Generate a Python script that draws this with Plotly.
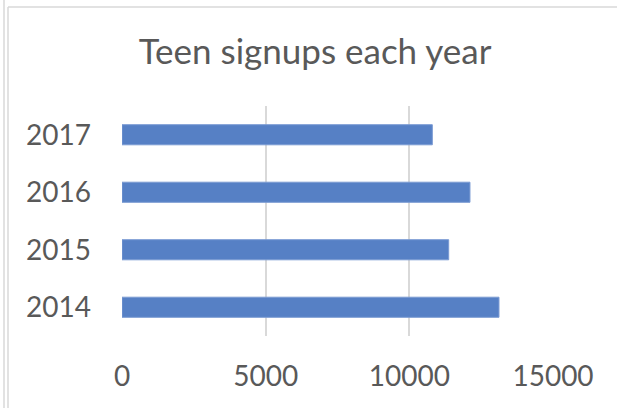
import plotly.graph_objects as go

years = ["2014", "2015", "2016", "2017"]
signups = [13120, 11370, 12110, 10800]
x_ticks = [0, 5000, 10000, 15000]

W, H = 617, 408
L, R, T, B = 122, 553, 106, 336  # plot area in pixels

def px(xp):
    return (xp - L) / (R - L)

def py(yp):
    return (B - yp) / (B - T)

fig = go.Figure(go.Bar(
    y=years, x=signups, orientation="h",
    marker=dict(color="#5680C5", line=dict(color="#7A9AD3", width=1)),
))

border = "#D9D9D9"
shapes = [
    dict(type="line", xref="paper", yref="paper", x0=px(4), x1=px(4), y0=py(0), y1=py(H),
         line=dict(color=border, width=1.5)),
    dict(type="line", xref="paper", yref="paper", x0=px(8), x1=px(8), y0=py(7), y1=py(H),
         line=dict(color=border, width=1.5)),
    dict(type="line", xref="paper", yref="paper", x0=px(8), x1=px(W), y0=py(7), y1=py(7),
         line=dict(color=border, width=1.5)),
]

fig.update_layout(
    width=W, height=H,
    margin=dict(l=L, r=W - R, t=T, b=H - B, pad=0, autoexpand=False),
    paper_bgcolor="white", plot_bgcolor="white",
    font=dict(family="Lato", color="#595959"),
    title=dict(text="Teen signups each year", x=315 / W, xanchor="center",
               y=1 - 52 / H, yanchor="middle", font=dict(size=35, color="#595959")),
    bargap=0.65,
    showlegend=False,
    shapes=shapes,
    xaxis=dict(range=[0, 15000], tickvals=x_ticks, ticktext=[str(v) for v in x_ticks],
               showgrid=True, gridcolor="#D9D9D9", gridwidth=1.5, zeroline=False,
               showline=False, ticks="", tickfont=dict(size=28, color="#595959"),
               ticklabelstandoff=21, fixedrange=True, automargin=False),
    yaxis=dict(showgrid=False, zeroline=False, showline=False, ticks="",
               tickfont=dict(size=28, color="#595959"), ticklabelstandoff=30,
               categoryorder="array", categoryarray=years, fixedrange=True, automargin=False),
)

fig.write_html("out.html", config={"displayModeBar": False},
               post_script="document.body.style.margin='0';document.body.style.padding='0';document.body.style.overflow='hidden';")
